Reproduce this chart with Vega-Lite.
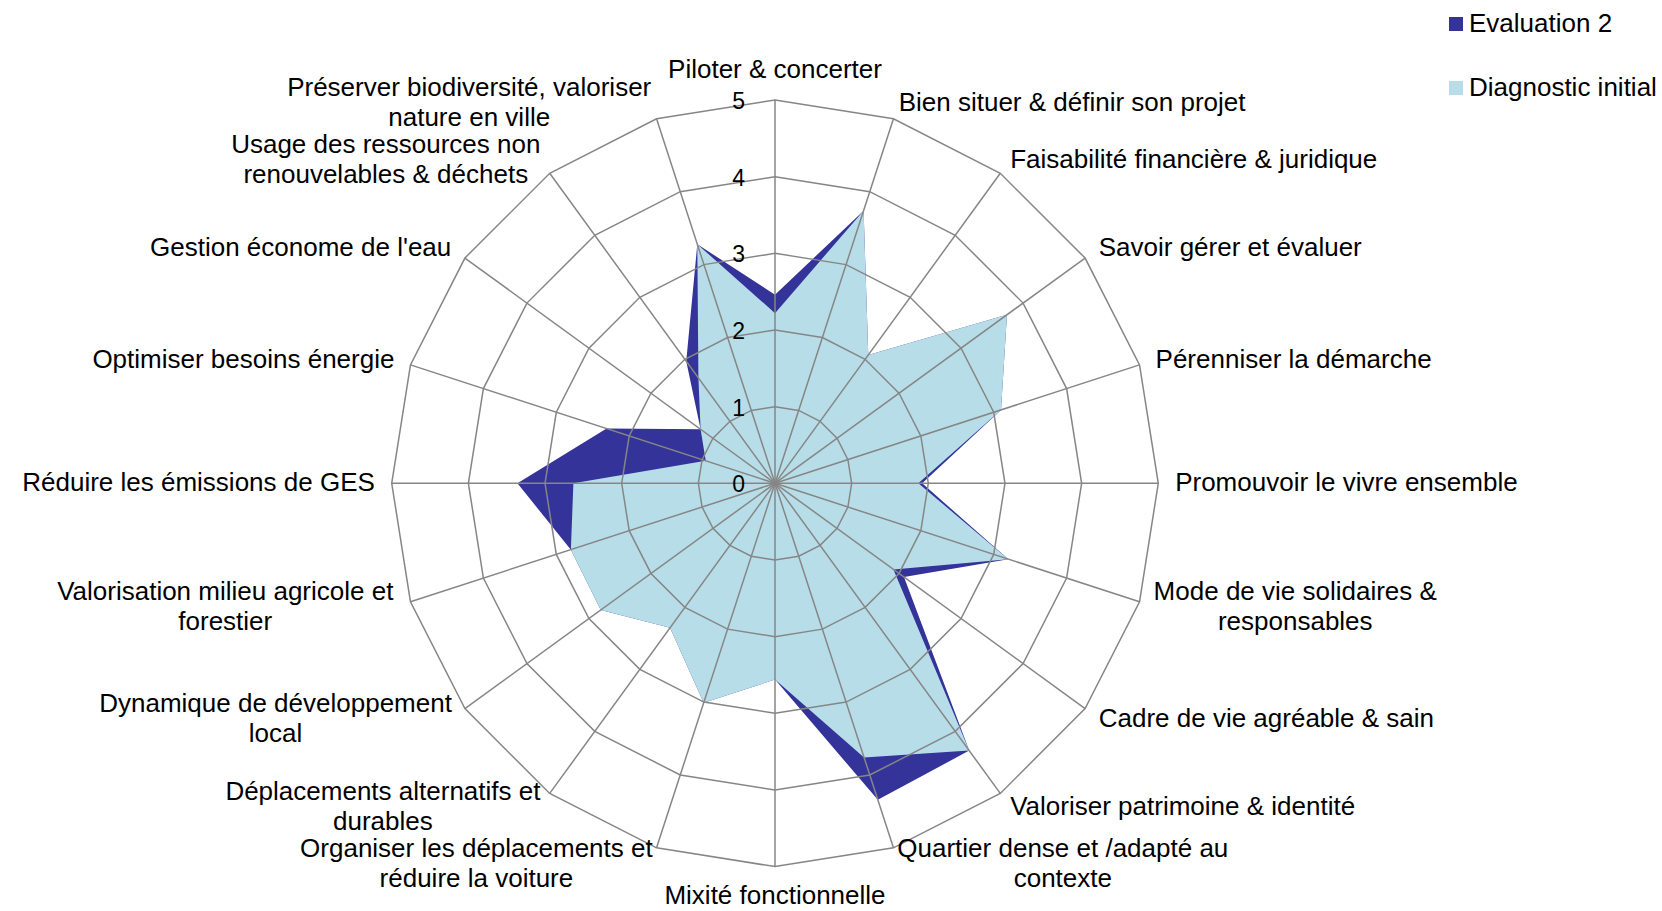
{
  "$schema": "https://vega.github.io/schema/vega-lite/v6.json",
  "width": 1662,
  "height": 911,
  "padding": 0,
  "autosize": {"type": "none"},
  "background": "white",
  "config": {"view": {"stroke": null}, "font": "Liberation Sans", "text": {"font": "Liberation Sans", "color": "black"}},
  "datasets": {
    "cats": [
      {"category": "Piloter & concerter", "Diagnostic initial": 2.22, "Evaluation 2": 2.46},
      {"category": "Bien situer & définir son projet", "Diagnostic initial": 3.74, "Evaluation 2": 3.74},
      {"category": "Faisabilité financière & juridique", "Diagnostic initial": 2.07, "Evaluation 2": 2.07},
      {"category": "Savoir gérer et évaluer", "Diagnostic initial": 3.74, "Evaluation 2": 3.74},
      {"category": "Pérenniser la démarche", "Diagnostic initial": 3.1, "Evaluation 2": 3.1},
      {"category": "Promouvoir le vivre ensemble", "Diagnostic initial": 1.87, "Evaluation 2": 1.92},
      {"category": "Mode de vie solidaires &\nresponsables", "Diagnostic initial": 3.2, "Evaluation 2": 3.2},
      {"category": "Cadre de vie agréable & sain", "Diagnostic initial": 1.91, "Evaluation 2": 2.08},
      {"category": "Valoriser patrimoine & identité", "Diagnostic initial": 4.31, "Evaluation 2": 4.31},
      {"category": "Quartier dense et /adapté au\ncontexte", "Diagnostic initial": 3.76, "Evaluation 2": 4.34},
      {"category": "Mixité fonctionnelle", "Diagnostic initial": 2.56, "Evaluation 2": 2.56},
      {"category": "Organiser les déplacements et\nréduire la voiture", "Diagnostic initial": 3.01, "Evaluation 2": 3.01},
      {"category": "Déplacements alternatifs et\ndurables", "Diagnostic initial": 2.33, "Evaluation 2": 2.33},
      {"category": "Dynamique de développement\nlocal", "Diagnostic initial": 2.81, "Evaluation 2": 2.81},
      {"category": "Valorisation milieu agricole et\nforestier", "Diagnostic initial": 2.8, "Evaluation 2": 2.8},
      {"category": "Réduire les émissions de GES", "Diagnostic initial": 2.63, "Evaluation 2": 3.36},
      {"category": "Optimiser besoins énergie", "Diagnostic initial": 0.95, "Evaluation 2": 2.31},
      {"category": "Gestion économe de l'eau", "Diagnostic initial": 1.2, "Evaluation 2": 1.2},
      {"category": "Usage des ressources non\nrenouvelables & déchets", "Diagnostic initial": 1.7, "Evaluation 2": 1.97},
      {"category": "Préserver biodiversité, valoriser\nnature en ville", "Diagnostic initial": 3.28, "Evaluation 2": 3.28}
    ],
    "ticks": [{"tick": 0}, {"tick": 1}, {"tick": 2}, {"tick": 3}, {"tick": 4}, {"tick": 5}]
  },
  "encoding": {
    "x": {"field": "px", "type": "quantitative", "scale": {"domain": [-10.110, 11.571], "nice": false, "zero": false}, "axis": null},
    "y": {"field": "py", "type": "quantitative", "scale": {"domain": [-5.579, 6.305], "nice": false, "zero": false}, "axis": null}
  },
  "layer": [
    {
      "data": {"name": "cats"},
      "transform": [
        {"window": [{"op": "row_number", "as": "rn"}]},
        {"fold": ["Evaluation 2", "Diagnostic initial"], "as": ["series", "value"]},
        {"filter": "datum.series === 'Evaluation 2'"},
        {"calculate": "(datum.rn - 1) * PI / 10", "as": "ang"},
        {"calculate": "datum.value * sin(datum.ang)", "as": "px"},
        {"calculate": "datum.value * cos(datum.ang)", "as": "py"}
      ],
      "mark": {"type": "line", "interpolate": "linear-closed", "filled": true, "strokeWidth": 0, "opacity": 1},
      "encoding": {
        "order": {"field": "rn", "type": "quantitative"},
        "color": {
          "field": "series", "type": "nominal",
          "scale": {"domain": ["Evaluation 2", "Diagnostic initial"], "range": ["#333399", "#B7DEE8"]},
          "legend": {"orient": "none", "legendX": 1443, "legendY": 11, "title": null, "symbolType": "square", "symbolSize": 196, "symbolStrokeWidth": 0, "symbolOpacity": 1, "labelFontSize": 26, "labelFont": "Liberation Sans", "labelColor": "black", "labelOffset": 0, "labelLimit": 0, "rowPadding": 38, "padding": 0}
        }
      }
    },
    {
      "data": {"name": "cats"},
      "transform": [
        {"window": [{"op": "row_number", "as": "rn"}]},
        {"fold": ["Evaluation 2", "Diagnostic initial"], "as": ["series", "value"]},
        {"filter": "datum.series === 'Diagnostic initial'"},
        {"calculate": "(datum.rn - 1) * PI / 10", "as": "ang"},
        {"calculate": "datum.value * sin(datum.ang)", "as": "px"},
        {"calculate": "datum.value * cos(datum.ang)", "as": "py"}
      ],
      "mark": {"type": "line", "interpolate": "linear-closed", "filled": true, "strokeWidth": 0, "opacity": 1},
      "encoding": {
        "order": {"field": "rn", "type": "quantitative"},
        "color": {"field": "series", "type": "nominal"}
      }
    },
    {
      "data": {"name": "cats"},
      "transform": [
        {"window": [{"op": "row_number", "as": "rn"}]},
        {"calculate": "(datum.rn - 1) * PI / 10", "as": "ang"},
        {"calculate": "[1, 2, 3, 4, 5]", "as": "lv"},
        {"flatten": ["lv"]},
        {"calculate": "datum.lv * sin(datum.ang)", "as": "px"},
        {"calculate": "datum.lv * cos(datum.ang)", "as": "py"}
      ],
      "mark": {"type": "line", "interpolate": "linear-closed", "color": "#868686", "strokeWidth": 1.5},
      "encoding": {
        "order": {"field": "rn", "type": "quantitative"},
        "detail": {"field": "lv", "type": "nominal"}
      }
    },
    {
      "data": {"name": "cats"},
      "transform": [
        {"window": [{"op": "row_number", "as": "rn"}]},
        {"calculate": "(datum.rn - 1) * PI / 10", "as": "ang"},
        {"calculate": "0", "as": "px"},
        {"calculate": "0", "as": "py"},
        {"calculate": "5 * sin(datum.ang)", "as": "px2"},
        {"calculate": "5 * cos(datum.ang)", "as": "py2"}
      ],
      "mark": {"type": "rule", "color": "#868686", "strokeWidth": 1.5},
      "encoding": {
        "x2": {"field": "px2"},
        "y2": {"field": "py2"}
      }
    },
    {
      "data": {"name": "ticks"},
      "transform": [
        {"calculate": "0", "as": "px"},
        {"calculate": "datum.tick", "as": "py"}
      ],
      "mark": {"type": "text", "align": "right", "baseline": "middle", "dx": -30, "dy": 2, "fontSize": 23, "font": "Liberation Sans", "color": "black"},
      "encoding": {"text": {"field": "tick", "type": "quantitative"}}
    },
    {
      "data": {"name": "cats"},
      "transform": [
        {"window": [{"op": "row_number", "as": "rn"}]},
        {"filter": "datum.rn === 1"},
        {"calculate": "0", "as": "px"},
        {"calculate": "5.22", "as": "py"}
      ],
      "mark": {"type": "text", "align": "center", "baseline": "bottom", "fontSize": 26, "font": "Liberation Sans", "color": "black"},
      "encoding": {"text": {"field": "category"}}
    },
    {
      "data": {"name": "cats"},
      "transform": [
        {"window": [{"op": "row_number", "as": "rn"}]},
        {"filter": "datum.rn === 11"},
        {"calculate": "0", "as": "px"},
        {"calculate": "-5.22", "as": "py"}
      ],
      "mark": {"type": "text", "align": "center", "baseline": "top", "fontSize": 26, "font": "Liberation Sans", "color": "black"},
      "encoding": {"text": {"field": "category"}}
    },
    {
      "data": {"name": "cats"},
      "transform": [
        {"window": [{"op": "row_number", "as": "rn"}]},
        {"filter": "datum.rn > 1 && datum.rn < 11 && indexof(datum.category, '\\n') < 0"},
        {"calculate": "(datum.rn - 1) * PI / 10", "as": "ang"},
        {"calculate": "5.22 * sin(datum.ang)", "as": "px"},
        {"calculate": "5.22 * cos(datum.ang)", "as": "py"}
      ],
      "mark": {"type": "text", "align": "left", "baseline": "middle", "fontSize": 26, "font": "Liberation Sans", "color": "black"},
      "encoding": {"text": {"field": "category"}}
    },
    {
      "data": {"name": "cats"},
      "transform": [
        {"window": [{"op": "row_number", "as": "rn"}]},
        {"filter": "datum.rn > 11 && indexof(datum.category, '\\n') < 0"},
        {"calculate": "(datum.rn - 1) * PI / 10", "as": "ang"},
        {"calculate": "5.22 * sin(datum.ang)", "as": "px"},
        {"calculate": "5.22 * cos(datum.ang)", "as": "py"}
      ],
      "mark": {"type": "text", "align": "right", "baseline": "middle", "fontSize": 26, "font": "Liberation Sans", "color": "black"},
      "encoding": {"text": {"field": "category"}}
    },
    {
      "data": {"name": "cats"},
      "transform": [
        {"window": [{"op": "row_number", "as": "rn"}]},
        {"filter": "indexof(datum.category, '\\n') >= 0"},
        {"calculate": "(datum.rn - 1) * PI / 10", "as": "ang"},
        {"calculate": "split(datum.category, '\\n')[0]", "as": "l1"},
        {"calculate": "0.556*length(datum.l1) - 0.334*length(replace(datum.l1, regexp('[^ijl]','g'), '')) - 0.278*length(replace(datum.l1, regexp('[^tf ,./]','g'), '')) - 0.223*length(replace(datum.l1, regexp('[^r]','g'), '')) - 0.056*length(replace(datum.l1, regexp('[^scvyxzk]','g'), '')) + 0.277*length(replace(datum.l1, regexp('[^m]','g'), '')) + 0.12*length(replace(datum.l1, regexp('[^A-Z&w]','g'), ''))", "as": "wem"},
        {"calculate": "5.22 * sin(datum.ang) + (sin(datum.ang) > 0 ? 1 : -1) * datum.wem * 26 / (2 * 76.66)", "as": "px"},
        {"calculate": "5.22 * cos(datum.ang)", "as": "py"}
      ],
      "mark": {"type": "text", "align": "center", "baseline": "middle", "dy": -15, "fontSize": 26, "font": "Liberation Sans", "color": "black", "lineBreak": "\n", "lineHeight": 30},
      "encoding": {"text": {"field": "category"}}
    }
  ]
}
